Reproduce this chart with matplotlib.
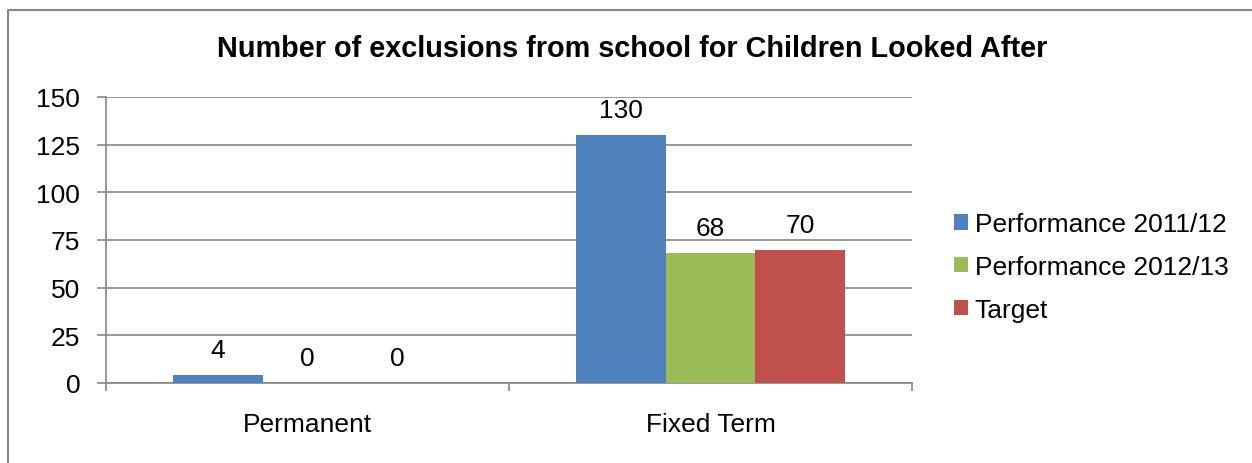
import matplotlib.pyplot as plt
import numpy as np
from matplotlib.lines import Line2D

plt.rcParams['font.family'] = ['Liberation Sans', 'DejaVu Sans']

categories = ['Permanent', 'Fixed Term']
series_names = ['Performance 2011/12', 'Performance 2012/13', 'Target']
perf_2011 = [4, 130]
perf_2012 = [0, 68]
target = [0, 70]
colors = ['#4F81BD', '#9BBB59', '#C0504D']
title = 'Number of exclusions from school for Children Looked After'

W, H = 1252, 464
fig = plt.figure(figsize=(W / 100, H / 100), dpi=100)
# chart border (only top and left edges show, rest is cropped)
fig.lines.append(Line2D([8 / W, 8 / W, 1], [0, 1 - 11 / H, 1 - 11 / H],
                        transform=fig.transFigure, color='#868686', linewidth=1.5))
ax = fig.add_axes([106 / W, 1 - 384 / H, 806 / W, 286 / H])

x = np.arange(len(categories))
width = 0.223
for i, (vals, name) in enumerate(zip([perf_2011, perf_2012, target], series_names)):
    pos = x + (i - 1) * width
    bars = ax.bar(pos, vals, width, color=colors[i], label=name, zorder=3)
    for b, v in zip(bars, vals):
        ax.annotate(str(v), (b.get_x() + b.get_width() / 2, v), xytext=(0, 18),
                    textcoords='offset points', ha='center', va='center', fontsize=19)

ax.set_xlim(-0.5, 1.5)
ax.set_ylim(0, 150)
ax.set_yticks(range(0, 151, 25))
ax.set_xticks([-0.5, 0.5, 1.5])
ax.set_xticklabels([])
ax.set_xticks(x, minor=True)
ax.set_xticklabels(categories, minor=True, fontsize=19)
ax.tick_params(axis='x', which='minor', length=0, pad=21)
ax.tick_params(axis='x', which='major', length=6, width=1.2, color='#868686')
ax.tick_params(axis='y', length=6.5, width=1.2, color='#868686', labelsize=19, pad=12)
ax.grid(axis='y', color='#868686', linewidth=1.2, zorder=0)
for s in ['top', 'right']:
    ax.spines[s].set_visible(False)
for s in ['left', 'bottom']:
    ax.spines[s].set_color('#868686')
    ax.spines[s].set_linewidth(1.2)

fig.text(632 / W, 1 - 49 / H, title, ha='center', va='center',
         fontsize=20.8, fontweight='bold')

ax.legend(loc='center left', bbox_to_anchor=(930 / W, 1 - 268 / H),
          bbox_transform=fig.transFigure, frameon=False, fontsize=19,
          handlelength=0.53, handleheight=0.53, handletextpad=0.27, labelspacing=0.71)

fig.savefig('out.png', dpi=100)
